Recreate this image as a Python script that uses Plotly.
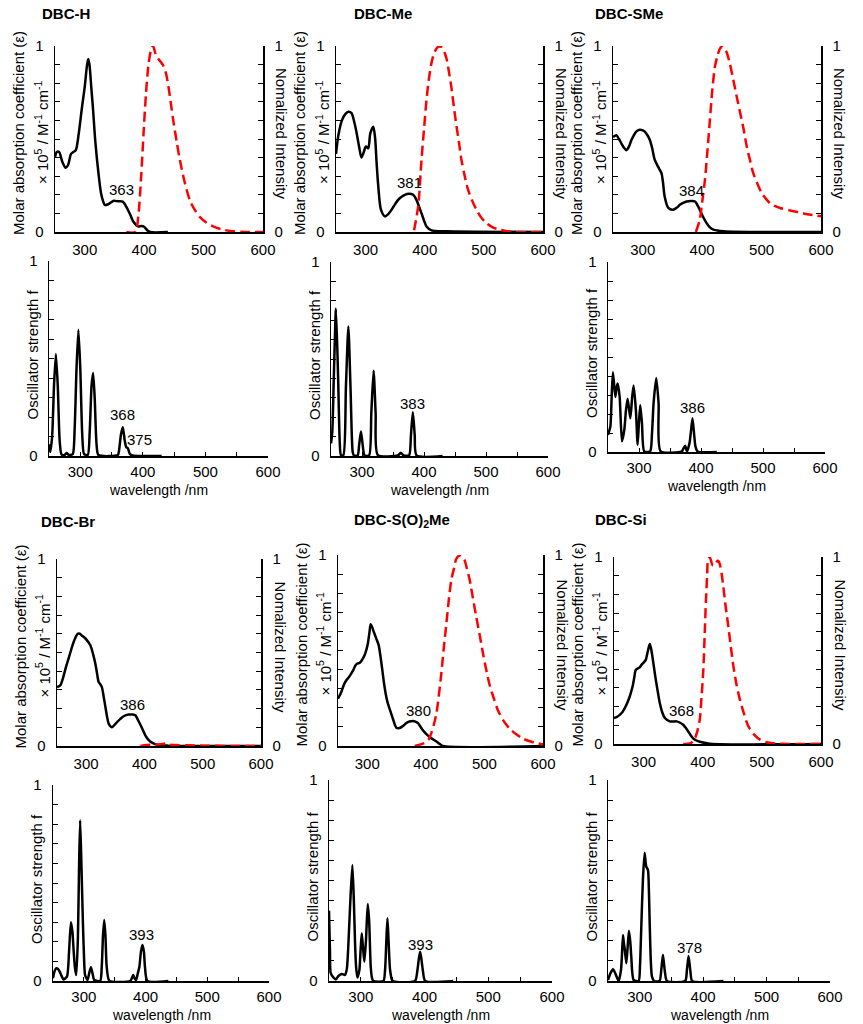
import plotly.graph_objects as go

W, H = 863, 1024
FONT = "Liberation Sans, Arial, sans-serif"

# ---------------- data ----------------
names = ["DBC-H", "DBC-Me", "DBC-SMe", "DBC-Br", "DBC-S(O)<sub>2</sub>Me", "DBC-Si"]

# DBC-H
H_abs_x = [250, 253, 257, 262, 268, 272, 277, 281, 285, 290, 295, 300, 304, 306, 308, 311, 314, 318, 323, 328, 334, 340, 348, 356, 364, 371, 377, 382, 390, 395, 400, 405, 410, 440]
H_abs_y = [0.40, 0.43, 0.43, 0.38, 0.345, 0.36, 0.42, 0.43, 0.44, 0.53, 0.66, 0.78, 0.90, 0.93, 0.90, 0.78, 0.66, 0.48, 0.32, 0.20, 0.145, 0.15, 0.167, 0.165, 0.163, 0.13, 0.09, 0.055, 0.03, 0.032, 0.028, 0.01, 0.0, 0.0]
H_em_x = [370, 385, 390, 395, 399, 403, 407, 411, 415, 419, 424, 429, 433, 437, 441, 445, 449, 455, 460, 468, 477, 485, 494, 505, 516, 530, 545, 570, 600]
H_em_y = [0, 0, 0.08, 0.3, 0.53, 0.74, 0.89, 0.97, 1.0, 0.96, 0.93, 0.91, 0.89, 0.85, 0.78, 0.69, 0.60, 0.48, 0.39, 0.27, 0.17, 0.12, 0.08, 0.05, 0.03, 0.015, 0.005, 0, 0]
H_osc_x = [250, 252, 255, 258, 261, 264, 267, 270, 275, 278, 282, 288, 291, 294, 297, 300, 303, 306, 312, 315, 318, 320.5, 323, 326, 329, 360, 362, 365, 368, 371, 373.5, 376, 379, 383, 430]
H_osc_y = [0.06, 0.02, 0.1, 0.36, 0.523, 0.36, 0.08, 0.008, 0.005, 0.015, 0.005, 0.01, 0.14, 0.45, 0.647, 0.45, 0.12, 0.01, 0.005, 0.12, 0.36, 0.426, 0.3, 0.06, 0.005, 0.005, 0.03, 0.11, 0.148, 0.08, 0.045, 0.04, 0.012, 0.003, 0]

# DBC-Me
Me_abs_x = [250, 254, 260, 266, 271, 276, 281, 285, 289, 293, 297, 300.5, 304.5, 308, 313, 316, 318.5, 321.5, 326, 332.7, 338, 344, 350, 355, 361, 366.5, 373, 380.5, 386, 390, 394.6, 399, 403, 411.5, 437, 600]
Me_abs_y = [0.42, 0.52, 0.60, 0.635, 0.646, 0.64, 0.59, 0.53, 0.46, 0.40, 0.43, 0.46, 0.45, 0.53, 0.566, 0.51, 0.38, 0.245, 0.12, 0.084, 0.095, 0.12, 0.15, 0.173, 0.19, 0.20, 0.205, 0.2, 0.173, 0.14, 0.10, 0.06, 0.03, 0.009, 0.004, 0]
Me_em_x = [382, 389, 394.6, 399, 403, 407, 411.5, 417, 422.7, 428, 433, 437, 441, 445, 449, 453.7, 458, 462, 467, 473, 480, 487.5, 495, 504, 515, 527, 549, 600]
Me_em_y = [0.01, 0.14, 0.39, 0.56, 0.71, 0.82, 0.91, 0.97, 0.995, 0.995, 0.97, 0.93, 0.86, 0.78, 0.68, 0.57, 0.48, 0.39, 0.31, 0.23, 0.17, 0.12, 0.08, 0.048, 0.025, 0.0125, 0, 0]
Me_osc_x = [250, 252, 254.5, 258, 261.5, 264, 266, 270, 274, 278, 281.5, 285, 287, 293, 295.5, 298.3, 301, 304, 311.5, 315, 318.7, 322, 325.5, 358, 362.7, 367, 376, 379, 382, 385, 388, 430]
Me_osc_y = [0.065, 0.12, 0.4, 0.76, 0.4, 0.08, 0.005, 0.005, 0.35, 0.668, 0.35, 0.02, 0.003, 0.003, 0.06, 0.126, 0.06, 0.003, 0.003, 0.22, 0.44, 0.22, 0.005, 0.003, 0.017, 0.003, 0.003, 0.11, 0.225, 0.11, 0.003, 0]

# DBC-SMe
SMe_abs_x = [250, 255.6, 260, 264, 268, 272.5, 277, 281, 285, 289, 295, 299, 303.5, 308, 312, 316, 320, 326, 331.6, 334, 337, 343, 351, 357, 362.5, 368, 374, 381, 388, 392, 396, 401, 407.5, 413, 419, 436, 600]
SMe_abs_y = [0.51, 0.52, 0.50, 0.477, 0.455, 0.44, 0.46, 0.495, 0.52, 0.54, 0.55, 0.548, 0.54, 0.52, 0.495, 0.45, 0.39, 0.35, 0.316, 0.27, 0.19, 0.13, 0.12, 0.13, 0.146, 0.156, 0.164, 0.166, 0.164, 0.145, 0.12, 0.085, 0.048, 0.025, 0.0125, 0.004, 0]
SMe_em_x = [389.5, 396, 400, 404.7, 409, 413, 417, 421.6, 426, 430, 434.6, 441, 447, 452.6, 458, 464, 470, 475, 481, 486, 493, 500, 507, 514, 522, 531, 548, 570.7, 600]
SMe_em_y = [0, 0.066, 0.16, 0.28, 0.44, 0.60, 0.76, 0.89, 0.95, 0.986, 1.0, 0.968, 0.9, 0.816, 0.73, 0.64, 0.55, 0.46, 0.38, 0.316, 0.26, 0.21, 0.18, 0.155, 0.14, 0.129, 0.116, 0.10, 0.084]
SMe_osc_x = [250, 253.8, 256, 258, 261.8, 263.8, 265.6, 268.8, 272.5, 276.3, 279, 281.7, 286, 289, 291.3, 295, 297.8, 300, 302, 304.8, 308.5, 318, 321, 323.5, 327.8, 331.6, 335, 369, 372, 374.5, 377.5, 381.5, 383.5, 386.3, 389, 391, 394.4, 425.5]
SMe_osc_y = [0.09, 0.134, 0.3, 0.42, 0.29, 0.34, 0.36, 0.29, 0.056, 0.117, 0.22, 0.28, 0.177, 0.29, 0.35, 0.22, 0.038, 0.16, 0.247, 0.15, 0.003, 0.003, 0.1, 0.256, 0.39, 0.256, 0.003, 0.003, 0.02, 0.033, 0.003, 0.047, 0.1, 0.177, 0.09, 0.03, 0.003, 0]

# DBC-Br
Br_abs_x = [250, 255.7, 260, 264.3, 268.6, 272.9, 276.3, 279.7, 285.5, 289, 293, 297, 301.5, 305, 308.3, 312, 315.8, 318.6, 321.5, 324.3, 327, 330, 333, 336, 338.6, 344, 353, 358.7, 364.4, 373, 380, 384.4, 388, 392, 396.7, 401.5, 407, 413, 421.6, 440, 600]
Br_abs_y = [0.315, 0.324, 0.36, 0.41, 0.455, 0.50, 0.535, 0.565, 0.60, 0.60, 0.59, 0.58, 0.565, 0.55, 0.53, 0.49, 0.44, 0.39, 0.342, 0.33, 0.315, 0.265, 0.21, 0.155, 0.12, 0.10, 0.128, 0.145, 0.159, 0.168, 0.168, 0.164, 0.145, 0.12, 0.09, 0.057, 0.033, 0.018, 0.007, 0.002, 0]
Br_em_x = [393, 404, 415, 427, 436, 444.5, 455, 473, 500, 550, 600]
Br_em_y = [0, 0.005, 0.007, 0.009, 0.014, 0.007, 0.005, 0.004, 0.002, 0.0, 0.0]
Br_osc_x = [250, 252.5, 255.4, 258, 260.8, 264, 267, 272.6, 276, 279, 281.5, 283.4, 285.5, 287.7, 290.4, 292.3, 294, 296, 298.5, 300.5, 302, 306, 308.7, 311.4, 314, 316.8, 326.5, 329, 331, 333, 335, 337, 341.5, 375, 377.5, 380, 382.5, 384.6, 387.5, 390, 392.5, 394.9, 397.3, 399, 403, 437]
Br_osc_y = [0.014, 0.05, 0.065, 0.062, 0.048, 0.025, 0.008, 0.022, 0.15, 0.30, 0.25, 0.158, 0.07, 0.03, 0.226, 0.6, 0.82, 0.6, 0.294, 0.1, 0.03, 0.005, 0.04, 0.07, 0.04, 0.005, 0, 0.073, 0.23, 0.311, 0.23, 0.073, 0, 0, 0.012, 0.03, 0.012, 0.005, 0.04, 0.073, 0.15, 0.184, 0.15, 0.073, 0, 0]

# DBC-S(O)2Me
SO2_abs_x = [250, 255.7, 260, 264.2, 268.5, 272.8, 276.5, 280, 283.5, 287, 291, 295.5, 298.5, 301, 303.5, 305.8, 308, 311, 315, 319.4, 322.5, 325.7, 328.5, 331.4, 334.5, 338, 344, 349.6, 355, 361, 366.7, 372, 378, 382, 386.6, 391, 395, 400, 406.5, 412, 418, 424, 429, 600]
SO2_abs_y = [0.248, 0.283, 0.32, 0.344, 0.36, 0.38, 0.40, 0.423, 0.433, 0.435, 0.45, 0.476, 0.505, 0.537, 0.59, 0.638, 0.625, 0.598, 0.565, 0.528, 0.47, 0.397, 0.33, 0.274, 0.23, 0.196, 0.14, 0.096, 0.094, 0.105, 0.12, 0.128, 0.131, 0.128, 0.12, 0.1, 0.082, 0.065, 0.047, 0.035, 0.024, 0.01, 0, 0]
SO2_em_x = [381, 389.4, 395, 400.8, 405, 409, 413.5, 418, 422, 426.4, 430.5, 435, 439, 443.5, 448, 452, 457.7, 462, 466, 470, 474.8, 480, 486, 492, 497.6, 503, 509, 516, 523, 533, 543, 555, 566, 583, 600]
SO2_em_y = [0, 0.007, 0.012, 0.021, 0.035, 0.065, 0.11, 0.17, 0.26, 0.38, 0.51, 0.64, 0.76, 0.87, 0.93, 0.98, 0.997, 0.99, 0.974, 0.93, 0.87, 0.78, 0.677, 0.58, 0.484, 0.4, 0.318, 0.25, 0.187, 0.13, 0.091, 0.06, 0.038, 0.02, 0.009]
SO2_osc_x = [250, 251.5, 252.6, 256.8, 261, 264.7, 270, 275, 278, 280, 283.5, 286.7, 289, 290.9, 292.5, 294.5, 297.7, 299.5, 301.4, 303.5, 305.5, 308, 310.8, 313, 315.5, 317.5, 319.7, 335.4, 338, 340, 341.7, 343.5, 345.9, 350, 385, 388.8, 391, 393, 395, 397.2, 401, 445]
SO2_osc_y = [0.35, 0.15, 0.04, 0.018, 0.008, 0.025, 0.035, 0.03, 0.06, 0.154, 0.4, 0.577, 0.4, 0.187, 0.07, 0.018, 0.055, 0.15, 0.237, 0.16, 0.096, 0.2, 0.383, 0.3, 0.071, 0.015, 0, 0, 0.055, 0.2, 0.312, 0.2, 0.055, 0, 0, 0.055, 0.11, 0.146, 0.11, 0.055, 0, 0]

# DBC-Si
Si_abs_x = [250, 255, 259.6, 264, 268, 272.5, 276.6, 279.5, 282, 284.5, 286.7, 290.7, 293.5, 296.4, 300, 303.7, 305.7, 307.7, 310.5, 312.7, 315, 318, 320.7, 324, 327.5, 331.5, 336, 344.4, 350, 355.7, 361, 367, 371, 375.5, 380, 385, 395, 412, 600]
Si_abs_y = [0.139, 0.145, 0.156, 0.17, 0.19, 0.22, 0.254, 0.285, 0.316, 0.36, 0.396, 0.405, 0.41, 0.423, 0.435, 0.45, 0.475, 0.503, 0.535, 0.51, 0.467, 0.40, 0.343, 0.28, 0.218, 0.17, 0.139, 0.121, 0.12, 0.121, 0.115, 0.103, 0.088, 0.067, 0.045, 0.027, 0.012, 0.002, 0]
Si_em_x = [367, 380, 386.8, 391, 395, 398, 401, 403.5, 405.5, 407.5, 409.4, 412.3, 414.5, 416.8, 420.7, 425, 427.5, 430, 432.5, 434.9, 439, 443.4, 447.5, 452, 457, 463, 470, 477.3, 487, 497, 510, 525, 560, 600]
Si_em_y = [0, 0.005, 0.03, 0.07, 0.13, 0.25, 0.396, 0.6, 0.77, 0.9, 0.99, 0.996, 0.975, 0.956, 0.956, 0.98, 0.975, 0.947, 0.9, 0.84, 0.73, 0.627, 0.52, 0.414, 0.32, 0.236, 0.16, 0.094, 0.05, 0.023, 0.008, 0.002, 0, 0]
Si_osc_x = [250, 253.7, 257.9, 261.5, 266.8, 270.5, 272, 273.6, 275, 276.2, 278.9, 281, 283, 285, 286.7, 290.4, 298.3, 300.5, 302, 305, 307.7, 310.3, 313, 314.5, 315.6, 317.5, 319.3, 323, 331.3, 334, 336.6, 339.7, 342.9, 371.7, 374.4, 377, 380, 382.7, 432]
Si_osc_y = [0.005, 0.038, 0.058, 0.038, 0, 0.055, 0.13, 0.229, 0.19, 0.163, 0.088, 0.17, 0.25, 0.2, 0.121, 0.005, 0, 0.08, 0.22, 0.502, 0.638, 0.569, 0.552, 0.45, 0.303, 0.1, 0.022, 0, 0, 0.055, 0.13, 0.046, 0, 0, 0.055, 0.124, 0.046, 0, 0]

# peak labels: (text, x, y) in data units of each panel
abs_labels = [
    [("416", 415, 1.097), ("363", 362, 0.226)],
    [("427", 420, 1.093), ("381", 374, 0.266)],
    [("433", 433, 1.098), ("384", 382, 0.223)],
    [("386", 380, 0.221)],
    [("455", 456.6, 1.075), ("380", 386.6, 0.184)],
    [("413", 412.3, 1.089), ("368", 364.2, 0.179)],
]
osc_labels = [
    [("368", 366.7, 0.211), ("375", 395, 0.083)],
    [("383", 381.5, 0.271)],
    [("386", 385.8, 0.233)],
    [("393", 393.8, 0.235)],
    [("393", 393, 0.184)],
    [("378", 378, 0.166)],
]

abs_data = [(H_abs_x, H_abs_y, H_em_x, H_em_y), (Me_abs_x, Me_abs_y, Me_em_x, Me_em_y),
            (SMe_abs_x, SMe_abs_y, SMe_em_x, SMe_em_y), (Br_abs_x, Br_abs_y, Br_em_x, Br_em_y),
            (SO2_abs_x, SO2_abs_y, SO2_em_x, SO2_em_y), (Si_abs_x, Si_abs_y, Si_em_x, Si_em_y)]
osc_data = [(H_osc_x, H_osc_y), (Me_osc_x, Me_osc_y), (SMe_osc_x, SMe_osc_y),
            (Br_osc_x, Br_osc_y), (SO2_osc_x, SO2_osc_y), (Si_osc_x, Si_osc_y)]

# ---------------- layout geometry (pixels) ----------------
abs_boxes = [(55, 263, 46, 232), (336, 543, 46, 232), (613, 821, 46, 232),
             (57, 261, 559, 746), (338, 543, 555, 746), (614, 821, 557, 744)]
osc_boxes = [(49, 268, 261, 456), (331, 548, 262, 456), (608, 825, 262, 452),
             (53, 269, 785, 981), (329, 552, 780, 981), (608, 830, 780, 981)]
title_pos = [(40, 13), (352, 13), (593, 13), (39, 521), (352, 520), (593, 519)]

fig = go.Figure()
layout = dict(width=W, height=H, autosize=False, margin=dict(l=0, r=0, t=0, b=0, autoexpand=False),
              paper_bgcolor="white", plot_bgcolor="white", showlegend=False, hovermode=False,
              font=dict(family=FONT, size=15, color="black"))
annotations = []

yt = [round(i * 0.1, 1) for i in range(11)]
ytt = ["0"] + [""] * 9 + ["1"]
xt = [250, 300, 350, 400, 450, 500, 550, 600]
xtt = ["", "300", "", "400", "", "500", "", "600"]


def dx(l, r):
    return [l / W, r / W]


def dy(t, b):
    return [1 - b / H, 1 - t / H]


def ann(text, x, y, size=15, angle=0, xanchor="center", yanchor="middle", xref="paper", yref="paper"):
    if xref == "paper":
        x = x / W
    if yref == "paper":
        y = 1 - y / H
    annotations.append(dict(text=text, x=x, y=y, xref=xref, yref=yref, showarrow=False,
                            textangle=angle, xanchor=xanchor, yanchor=yanchor,
                            font=dict(family=FONT, size=size, color="black")))


line_kw = dict(color="black", width=2.5)
red_kw = dict(color="#ff0000", width=2.5, dash="10px,5px")
TF = dict(family=FONT, size=15, color="black")

axis_n = 0
right_n = 12
for k in range(6):
    # absorption / emission panel
    axis_n += 1
    i = axis_n
    l, r, t, b = abs_boxes[k]
    ax, ay, ex, ey = abs_data[k]
    xs = "x" if i == 1 else f"x{i}"
    ys = "y" if i == 1 else f"y{i}"
    right_n += 1
    yr = f"y{right_n}"
    fig.add_trace(go.Scatter(x=ax, y=ay, xaxis=xs, yaxis=ys, mode="lines",
                             line=dict(shape="spline", smoothing=0.8, **line_kw)))
    fig.add_trace(go.Scatter(x=ex, y=ey, xaxis=xs, yaxis=yr, mode="lines",
                             line=dict(shape="spline", smoothing=0.8, **red_kw)))
    layout[f"xaxis{i}"] = dict(domain=dx(l, r), anchor=ys, range=[250, 600], showline=True,
                               linecolor="black", linewidth=1.5, showgrid=False, zeroline=False,
                               tickvals=[300, 400, 500, 600], ticktext=["300", "400", "500", "600"],
                               ticks="", ticklabelstandoff=3, tickfont=TF)
    layout[f"yaxis{i}"] = dict(domain=dy(t, b), anchor=xs, range=[0, 1], showline=True,
                               linecolor="black", linewidth=1.5, showgrid=False, zeroline=False,
                               tickvals=yt, ticktext=ytt, ticks="inside", ticklen=5,
                               tickcolor="black", ticklabelstandoff=7, tickfont=TF)
    layout[f"yaxis{right_n}"] = dict(overlaying=ys, side="right", anchor=xs, range=[0, 1],
                                     showline=True, linecolor="black", linewidth=1.5,
                                     showgrid=False, zeroline=False, tickvals=yt, ticktext=ytt,
                                     ticks="inside", ticklen=5, tickcolor="black",
                                     ticklabelstandoff=7, tickfont=TF)
    tx, ty = title_pos[k]
    ann(f"<b>{names[k]}</b>", tx, ty, size=15, xanchor="left")
    cy = (t + b) / 2 - 6
    ann("Molar absorption coefficient (ε)", l - 37, cy, size=15, angle=-90)
    ann("× 10<sup>5</sup> / M<sup>-1</sup> cm<sup>-1</sup>", l - 14, cy, size=15, angle=-90)
    ann("Nomalized Intensity", r + 19, cy, size=15, angle=90)
    for (txt, lx, ly) in abs_labels[k]:
        ann(txt, lx, ly, size=15, xref=xs, yref=ys)

    # oscillator panel
    axis_n += 1
    i = axis_n
    l, r, t, b = osc_boxes[k]
    ox, oy = osc_data[k]
    xs = f"x{i}"
    ys = f"y{i}"
    fig.add_trace(go.Scatter(x=ox, y=oy, xaxis=xs, yaxis=ys, mode="lines",
                             line=dict(shape="spline", smoothing=0.6, **line_kw)))
    layout[f"xaxis{i}"] = dict(domain=dx(l, r), anchor=ys, range=[250, 600], showline=True,
                               linecolor="black", linewidth=1.5, showgrid=False, zeroline=False,
                               tickvals=xt, ticktext=xtt, ticks="inside", ticklen=4,
                               tickcolor="black", ticklabelstandoff=1, tickfont=TF)
    layout[f"yaxis{i}"] = dict(domain=dy(t, b), anchor=xs, range=[0, 1], showline=True,
                               linecolor="black", linewidth=1.5, showgrid=False, zeroline=False,
                               tickvals=yt, ticktext=ytt, ticks="inside", ticklen=5,
                               tickcolor="black", ticklabelstandoff=7, tickfont=TF)
    ann("Oscillator strength f", l - 17, (t + b) / 2 - 4, size=15, angle=-90)
    ann("wavelength /nm", (l + r) / 2, b + 34, size=14)
    for (txt, lx, ly) in osc_labels[k]:
        ann(txt, lx, ly, size=15, xref=xs, yref=ys)

layout["annotations"] = annotations
fig.update_layout(**layout)
fig.write_html("out.html", config={"displayModeBar": False, "staticPlot": True},
               post_script="document.body.style.margin='0px';document.body.style.padding='0px';")
